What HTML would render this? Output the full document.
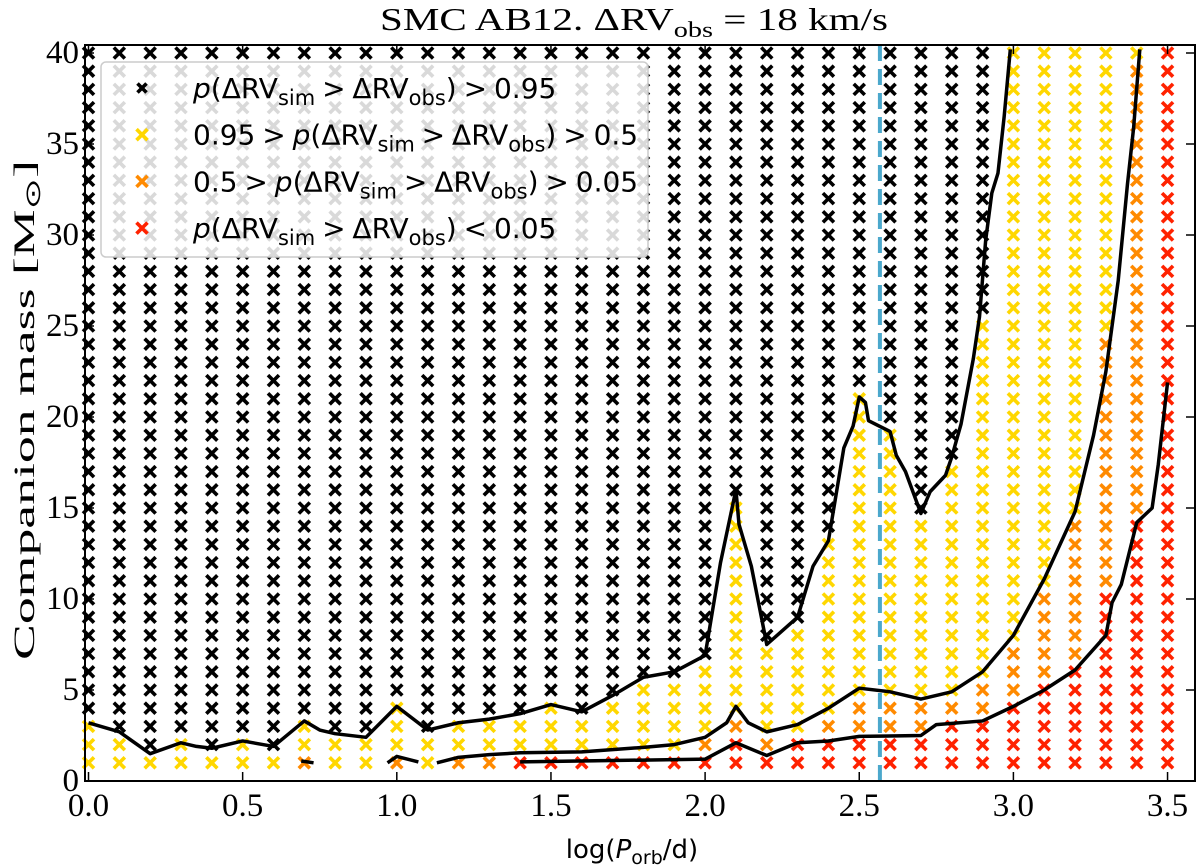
<!DOCTYPE html>
<html><head><meta charset="utf-8"><style>
body{margin:0;background:#fff;}
svg{display:block;}
</style></head><body>
<svg id="chart" width="1200" height="868" viewBox="0 0 1200 868" xmlns="http://www.w3.org/2000/svg">
<text x="380" y="30" textLength="508" lengthAdjust="spacingAndGlyphs" font-family="Liberation Serif, serif" font-size="32">SMC AB12. ΔRV<tspan font-size="22" dy="7">obs</tspan><tspan dy="-7"> = 18 km/s</tspan></text>
<g id="cells"></g>
<g id="lines"></g>
<g id="axes"></g>
<text transform="translate(34,660) rotate(-90)" textLength="500" lengthAdjust="spacingAndGlyphs" font-family="Liberation Serif, serif" font-size="30">Companion mass [M<tspan font-size="21" dy="6">⊙</tspan><tspan dy="-6">]</tspan></text>
<text x="632" y="858" text-anchor="middle" font-family="DejaVu Sans, sans-serif" font-size="26">log(<tspan font-style="italic">P</tspan><tspan font-size="19" dy="6">orb</tspan><tspan dy="-6">/d)</tspan></text>
<g id="legend"></g>
</svg>
<script>
// ---- data ----
const colX = [0.0,0.1,0.2,0.3,0.4,0.5,0.6,0.7,0.8,0.9,1.0,1.1,1.2,1.3,1.4,1.5,1.6,1.7,1.8,1.9,2.0,2.1,2.2,2.3,2.4,2.5,2.6,2.7,2.8,2.9,3.0,3.1,3.2,3.3,3.4,3.5];
const redTop    = [0,0,0,0,0,0,0,0,0,0,0,0,0,0,1,1,1,1,1,1,1,2,1,2,2,2,2,2,3,3,4,5,6,10,14,40];
const orangeTop = [0,0,0,0,0,0,0,1,0,0,1,0,1,1,1,1,1,1,1,1,2,3,2,2,3,4,4,4,4,5,7,10,14,24,39,40];
const yellowTop = [3,2,1,2,1,2,1,3,2,2,4,2,3,3,3,4,3,4,5,5,6,15,7,8,13,21,19,14,17,25,40,40,40,40,40,40];
const massRows = [];
for (let m = 1; m <= 40; m++) massRows.push(m);
const upperX = [0.0,0.1,0.2,0.3,0.35,0.4,0.5,0.6,0.7,0.75,0.8,0.9,1.0,1.1,1.2,1.3,1.4,1.5,1.6,1.7,1.8,1.9,2.0,2.05,2.1,2.11,2.15,2.2,2.3,2.35,2.4,2.45,2.48,2.5,2.52,2.53,2.6,2.62,2.65,2.7,2.73,2.78,2.8,2.83,2.87,2.89,2.91,2.93,2.95,2.97,2.99];
const upperY = [3.2,2.7,1.5,2.1,1.9,1.8,2.2,1.9,3.3,2.8,2.6,2.4,4.1,2.8,3.2,3.4,3.7,4.2,3.8,4.7,5.7,6.0,6.9,12.0,16.0,14.1,11.8,7.5,9.0,11.8,13.2,18.3,19.5,21.1,20.8,19.8,19.2,17.9,17.0,14.7,15.9,16.8,17.8,19.6,23.2,25.5,29.7,32.3,33.4,36.5,40.2];
const midX = [1.13,1.2,1.3,1.4,1.6,1.8,1.9,2.0,2.07,2.1,2.14,2.2,2.3,2.4,2.5,2.6,2.7,2.8,2.9,3.0,3.1,3.2,3.26,3.3,3.34,3.37,3.39,3.41];
const midY = [1.0,1.3,1.45,1.55,1.6,1.85,2.0,2.4,3.2,4.1,3.2,2.7,3.1,4.0,5.1,4.9,4.5,4.9,6.0,8.0,11.1,14.8,19.0,22.5,27.5,32.8,35.9,40.2];
const midSeg1X = [0.69,0.73], midSeg1Y = [1.1,1.0];
const midSeg2X = [0.97,1.0,1.07], midSeg2Y = [1.0,1.35,1.05];
const lowX = [1.4,1.8,2.0,2.1,2.2,2.3,2.4,2.5,2.7,2.75,2.9,3.0,3.1,3.2,3.3,3.32,3.35,3.4,3.45,3.47,3.5];
const lowY = [1.05,1.15,1.2,2.1,1.4,2.1,2.2,2.45,2.5,3.1,3.3,4.1,5.0,6.1,8.0,9.8,10.8,14.2,15.0,17.4,21.9];
const obsLogP = 2.567;
const xTicks = [0.0,0.5,1.0,1.5,2.0,2.5,3.0,3.5];
const yTicks = [0,5,10,15,20,25,30,35,40];
const legendLabels = ['>0.95','0.95-0.5','0.5-0.05','<0.05'];
// ---- scales ----
const X = v => 88.5 + v * 308.3;
const Y = m => 781 - m * 18.2;
const L = 85, R = 1195, T = 45, B = 781;
const NS = 'http://www.w3.org/2000/svg';
function mk(tag, attrs, parent) {
  const e = document.createElementNS(NS, tag);
  for (const k in attrs) e.setAttribute(k, attrs[k]);
  parent.appendChild(e);
  return e;
}
const COL = {black:'#000000', yellow:'#FFD700', orange:'#FF8A00', red:'#FF2200'};
function cross(parent, cx, cy, col, s, w) {
  const g = mk('g', {stroke: col, 'stroke-width': w, 'stroke-linecap': 'butt'}, parent);
  mk('line', {x1: cx - s, y1: cy - s, x2: cx + s, y2: cy + s}, g);
  mk('line', {x1: cx - s, y1: cy + s, x2: cx + s, y2: cy - s}, g);
  return g;
}
const cells = document.getElementById('cells');
colX.forEach((x, i) => {
  massRows.forEach(m => {
    let c = 'black';
    if (m <= redTop[i]) c = 'red';
    else if (m <= orangeTop[i]) c = 'orange';
    else if (m <= yellowTop[i]) c = 'yellow';
    const g = cross(cells, X(x), Y(m), COL[c], 5.5, 3.6);
    
    
  });
});
const lines = document.getElementById('lines');
function poly(xs, ys, name) {
  const p = mk('polyline', {points: xs.map((x, i) => X(x) + ',' + Y(ys[i])).join(' '), fill: 'none', stroke: '#000', 'stroke-width': 3.5, 'stroke-linejoin': 'round'}, lines);
  
  
}
const clip = mk('clipPath', {id: 'pc'}, lines);
mk('rect', {x: L, y: T, width: R - L, height: B - T}, clip);
lines.setAttribute('clip-path', 'url(#pc)');
poly(upperX, upperY, 'contour-095');
poly(midX, midY, 'contour-05');
poly(midSeg1X, midSeg1Y, 'contour-05-segment');
poly(midSeg2X, midSeg2Y, 'contour-05-segment');
poly(lowX, lowY, 'contour-005');
const obs = mk('line', {x1: X(obsLogP), x2: X(obsLogP), y1: T, y2: B, stroke: '#4BA8CC', 'stroke-width': 4, 'stroke-dasharray': '16,8'}, lines);


const ax = document.getElementById('axes');
const fr = mk('rect', {x: L, y: T, width: R - L, height: B - T, fill: 'none', stroke: '#000', 'stroke-width': 2}, ax);


xTicks.forEach(v => {
  mk('line', {x1: X(v), x2: X(v), y1: B, y2: B - 9, stroke: '#000', 'stroke-width': 1.5}, ax);
  mk('line', {x1: X(v), x2: X(v), y1: T, y2: T + 9, stroke: '#000', 'stroke-width': 1.5}, ax);
  const t = mk('text', {x: X(v), y: 816, 'text-anchor': 'middle', 'font-family': 'Liberation Serif, serif', 'font-size': 33}, ax);
  t.textContent = v.toFixed(1);
  
  
});
yTicks.forEach(v => {
  mk('line', {x1: L, x2: L + 9, y1: Y(v), y2: Y(v), stroke: '#000', 'stroke-width': 1.5}, ax);
  mk('line', {x1: R, x2: R - 9, y1: Y(v), y2: Y(v), stroke: '#000', 'stroke-width': 1.5}, ax);
  const t = mk('text', {x: 79, y: Y(v) + 10, 'text-anchor': 'end', 'font-family': 'Liberation Serif, serif', 'font-size': 33}, ax);
  t.textContent = String(v);
  
  
});
const lg = document.getElementById('legend');
const bg = mk('rect', {x: 101, y: 62, width: 547, height: 195, rx: 5, fill: 'rgba(255,255,255,0.85)', stroke: '#ccc', 'stroke-width': 1.5}, lg);


const lgCols = ['black', 'yellow', 'orange', 'red'];
const lgHtml = [
  '<tspan font-style="italic">p</tspan>(ΔRV<tspan font-size="21" dy="7">sim</tspan><tspan dy="-7"> &gt; ΔRV</tspan><tspan font-size="21" dy="7">obs</tspan><tspan dy="-7">) &gt; 0.95</tspan>',
  '0.95 &gt; <tspan font-style="italic">p</tspan>(ΔRV<tspan font-size="21" dy="7">sim</tspan><tspan dy="-7"> &gt; ΔRV</tspan><tspan font-size="21" dy="7">obs</tspan><tspan dy="-7">) &gt; 0.5</tspan>',
  '0.5 &gt; <tspan font-style="italic">p</tspan>(ΔRV<tspan font-size="21" dy="7">sim</tspan><tspan dy="-7"> &gt; ΔRV</tspan><tspan font-size="21" dy="7">obs</tspan><tspan dy="-7">) &gt; 0.05</tspan>',
  '<tspan font-style="italic">p</tspan>(ΔRV<tspan font-size="21" dy="7">sim</tspan><tspan dy="-7"> &gt; ΔRV</tspan><tspan font-size="21" dy="7">obs</tspan><tspan dy="-7">) &lt; 0.05</tspan>'
];
legendLabels.forEach((lab, i) => {
  const cy = 88 + i * 46.7;
  const g = mk('g', {}, lg);
  
  
  cross(g, 142, cy, COL[lgCols[i]], i === 0 ? 4.5 : 5.5, 3.6);
  const t = mk('text', {x: 193, y: cy + 10, 'font-family': 'DejaVu Sans, sans-serif', 'font-size': 28, 'word-spacing': -2}, g);
  t.innerHTML = lgHtml[i];
});
</script>
</body></html>
